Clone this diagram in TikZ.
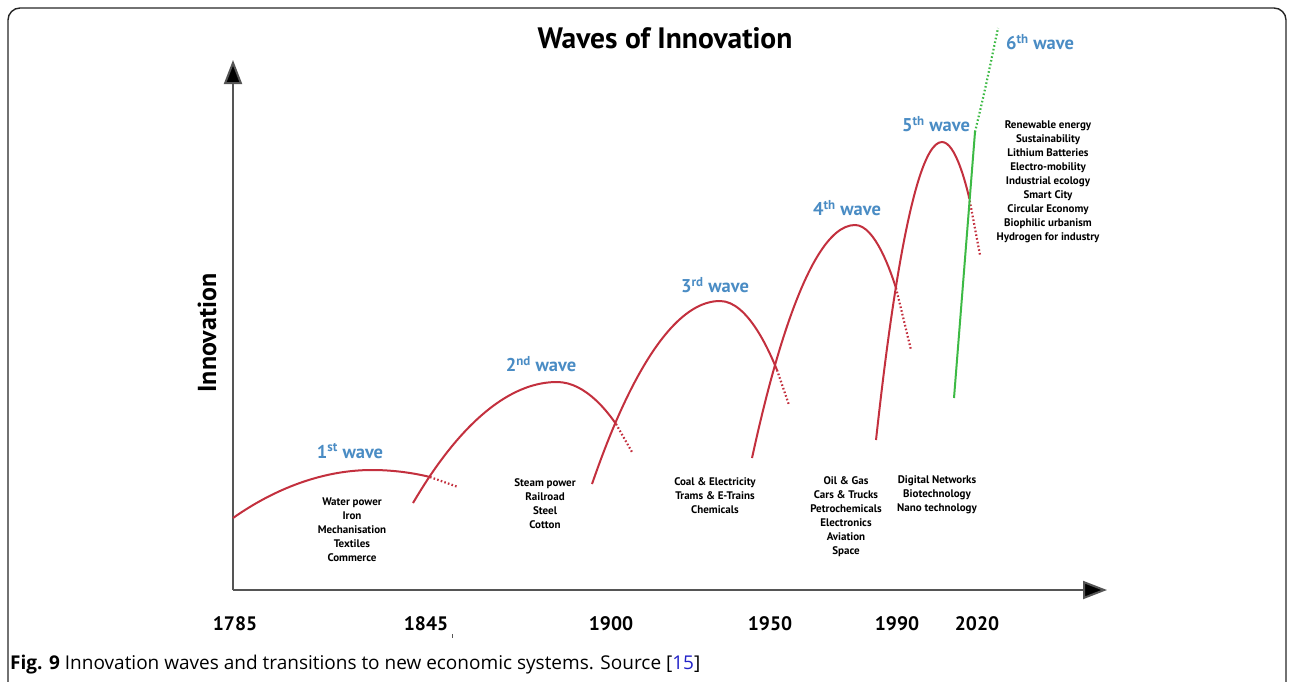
\documentclass[tikz,border=0pt]{standalone}
\usepackage{fontspec}
\setmainfont{PT Sans}
\newfontfamily\capfont{Open Sans}
\usetikzlibrary{arrows.meta}
\definecolor{wred}{HTML}{C3303E}
\definecolor{wgreen}{HTML}{3DBA45}
\definecolor{wblue}{HTML}{4A8CC4}
\definecolor{axisgray}{HTML}{555555}
\definecolor{refblue}{HTML}{2323C8}
\tikzset{
  wave/.style={draw=wred, line width=2pt},
  wavedot/.style={draw=wred, line width=2.2pt, dash pattern=on 1.6pt off 2.2pt},
  greenline/.style={draw=wgreen, line width=2pt},
  greendot/.style={draw=wgreen, line width=2.2pt, dash pattern=on 1.6pt off 2.2pt},
  axisline/.style={draw=axisgray, line width=2pt, -{Triangle[length=24pt,width=18pt,fill=black]}},
  wlabel/.style={text=wblue, font=\fontsize{18.5}{20}\selectfont\bfseries, inner sep=0pt},
  tlist/.style={align=center, font=\fontsize{11}{14}\selectfont\bfseries, inner sep=0pt},
  year/.style={font=\fontsize{19.5}{21}\selectfont\bfseries, inner sep=0pt}
}
\begin{document}
\begin{tikzpicture}[x=1pt,y=-1pt]
\useasboundingbox (0,0) rectangle (1292,681);
% frame
\draw[line width=1.4pt, draw=black!85, rounded corners=12pt] (8,720) -- (8,8) -- (1286,8) -- (1286,720);
% title
\node[font=\fontsize{29.5}{32}\selectfont\bfseries, inner sep=0pt] (title) at (665,38) {Waves of Innovation};
% axes
\coordinate (origin) at (233,590);
\coordinate (ytip) at (233,60);
\coordinate (xtip) at (1107,590);
\draw[axisline] (origin) -- (ytip);
\draw[axisline] (origin) -- (xtip);
\node[rotate=90, font=\fontsize{26}{28}\selectfont\bfseries, inner sep=0pt] (ylab) at (207,333) {Innovation};
% years
\node[year] (y1785) at (235,624) {1785};
\node[year] (y1845) at (426,624) {1845};
\node[year] (y1900) at (611,624) {1900};
\node[year] (y1950) at (770,624) {1950};
\node[year] (y1990) at (897,624) {1990};
\node[year] (y2020) at (977,624) {2020};
\draw[axisgray, line width=0.8pt] (452,634) -- (452,638);
% wave points
\coordinate (w1s) at (233,518); \coordinate (w1p) at (372,470); \coordinate (w1c) at (430,477); \coordinate (w1e) at (458,487);
\coordinate (w2s) at (413,503); \coordinate (w2p) at (557,382); \coordinate (w2c) at (616,424); \coordinate (w2e) at (632,452);
\coordinate (w3s) at (592,484); \coordinate (w3p) at (720,301); \coordinate (w3c) at (777,370); \coordinate (w3e) at (789,405);
\coordinate (w4s) at (752,458); \coordinate (w4p) at (855,225); \coordinate (w4c) at (896,288); \coordinate (w4e) at (911,350);
\coordinate (w5s) at (876,440); \coordinate (w5p) at (942,142); \coordinate (w5c) at (969,197); \coordinate (w5e) at (980,255);
\coordinate (g1) at (954,398); \coordinate (g2) at (975,132); \coordinate (g3) at (998,28);
% waves
\draw[wave] (w1s) parabola bend (w1p) (w1c);
\draw[wavedot] (w1c) -- (w1e);
\draw[wave] (w2s) parabola bend (w2p) (w2c);
\draw[wavedot] (w2c) -- (w2e);
\draw[wave] (w3s) parabola bend (w3p) (w3c);
\draw[wavedot] (w3c) -- (w3e);
\draw[wave] (w4s) parabola bend (w4p) (w4c);
\draw[wavedot] (w4c) -- (w4e);
\draw[wave] (w5s) parabola bend (w5p) (w5c);
\draw[wavedot] (w5c) -- (w5e);
\draw[greenline] (g1) -- (g2);
\draw[greendot] (g2) .. controls (985,90) .. (g3);
% wave labels
\node[wlabel] (l1) at (350,451) {1\textsuperscript{st} wave};
\node[wlabel] (l2) at (541,364) {2\textsuperscript{nd} wave};
\node[wlabel] (l3) at (715,285) {3\textsuperscript{rd} wave};
\node[wlabel] (l4) at (847,208) {4\textsuperscript{th} wave};
\node[wlabel] (l5) at (936,124) {5\textsuperscript{th} wave};
\node[wlabel] (l6) at (1040,42) {6\textsuperscript{th} wave};
% lists
\node[tlist] (t1) at (352,530) {Water power\\Iron\\Mechanisation\\Textiles\\Commerce};
\node[tlist] (t2) at (545,503.5) {Steam power\\Railroad\\Steel\\Cotton};
\node[tlist] (t3) at (715,496) {Coal \& Electricity\\Trams \& E-Trains\\Chemicals};
\node[tlist] (t4) at (846,517) {Oil \& Gas\\Cars \& Trucks\\Petrochemicals\\Electronics\\Aviation\\Space};
\node[tlist] (t5) at (937,495) {Digital Networks\\Biotechnology\\Nano technology};
\node[tlist] (t6) at (1048,181.5) {Renewable energy\\Sustainability\\Lithium Batteries\\Electro-mobility\\Industrial ecology\\Smart City\\Circular Economy\\Biophilic urbanism\\Hydrogen for industry};
% caption
\node[anchor=west, font=\capfont\fontsize{19}{21}\selectfont, inner sep=0pt] (cap) at (10,665) {\textbf{Fig. 9} Innovation waves and transitions to new economic systems. Source [\textcolor{refblue}{15}]};
\end{tikzpicture}
\end{document}
